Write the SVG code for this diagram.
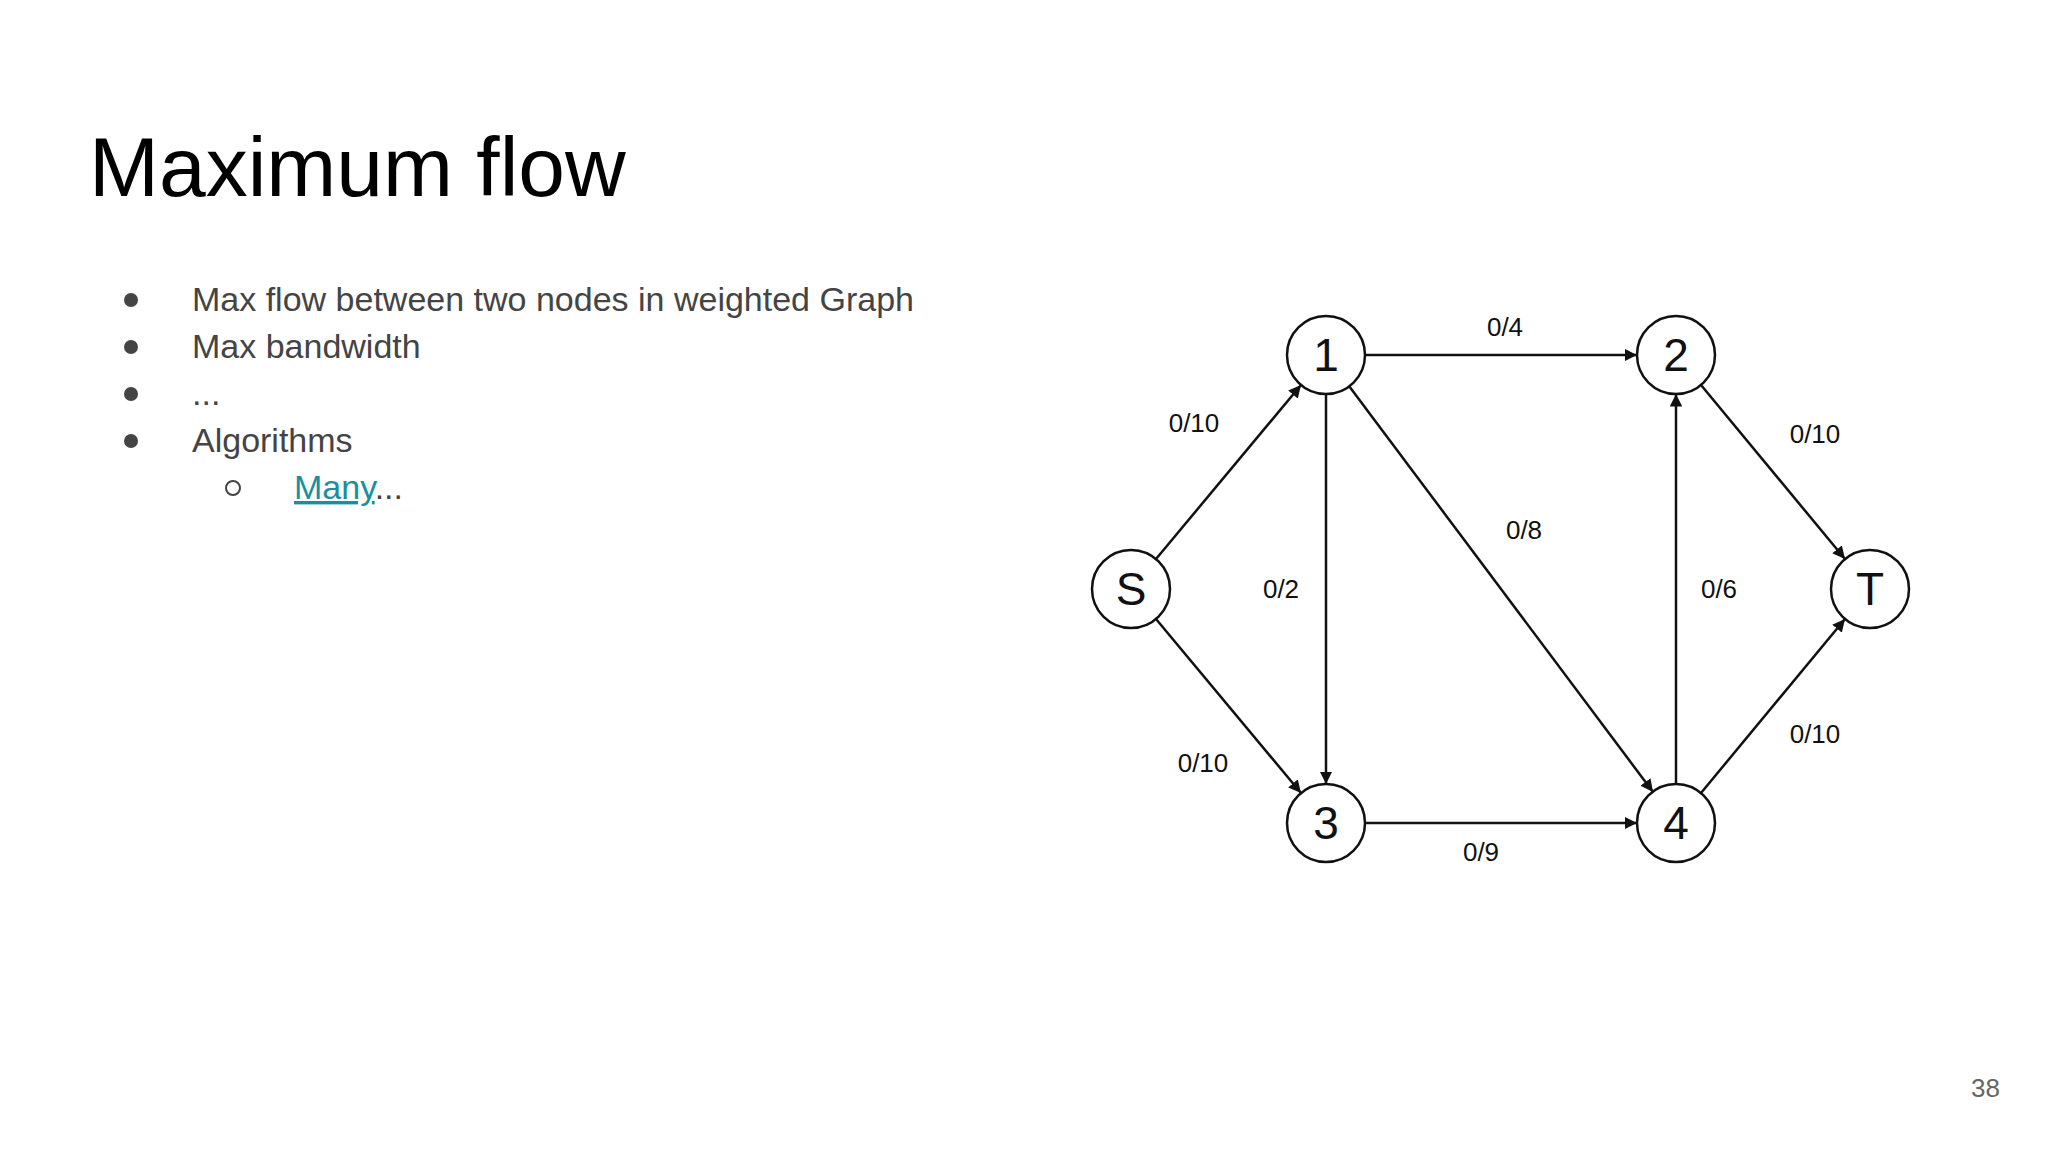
<svg xmlns="http://www.w3.org/2000/svg" width="2048" height="1152" viewBox="0 0 2048 1152">
<style>
.t{font-family:"Liberation Sans",Arial,sans-serif}
.b{font-size:34px;fill:#444}
.n circle{fill:#fff;stroke:#111;stroke-width:2.5}
.n text{font-family:"Liberation Sans",Arial,sans-serif;font-size:46px;text-anchor:middle;fill:#111}
.e line{stroke:#111;stroke-width:2.5;marker-end:url(#a)}
.l{font-family:"Liberation Sans",Arial,sans-serif;font-size:26px;text-anchor:middle;fill:#111}
</style>
<defs><marker id="a" viewBox="0 0 10 10" refX="10" refY="5" markerWidth="5" markerHeight="5" orient="auto" markerUnits="strokeWidth"><path d="M0,0L10,5L0,10z" fill="#111"/></marker></defs>
<rect width="2048" height="1152" fill="#fff"/>
<text class="t" x="89" y="196" font-size="84" fill="#000">Maximum flow</text>
<g class="t b">
<circle cx="131" cy="300" r="7" fill="#444"/><text x="192" y="311">Max flow between two nodes in weighted Graph</text>
<circle cx="131" cy="347" r="7" fill="#444"/><text x="192" y="358">Max bandwidth</text>
<circle cx="131" cy="394" r="7" fill="#444"/><text x="192" y="405">...</text>
<circle cx="131" cy="441" r="7" fill="#444"/><text x="192" y="452">Algorithms</text>
<circle cx="233" cy="488" r="7" fill="none" stroke="#444" stroke-width="2"/><text x="294" y="499"><tspan fill="#1a8fa0" text-decoration="underline">Many</tspan>...</text>
</g>
<g class="e">
<line x1="1156" y1="559" x2="1301" y2="385"/>
<line x1="1156" y1="619" x2="1301" y2="793"/>
<line x1="1365" y1="355" x2="1637" y2="355"/>
<line x1="1326" y1="394" x2="1326" y2="784"/>
<line x1="1349" y1="386" x2="1653" y2="792"/>
<line x1="1365" y1="823" x2="1637" y2="823"/>
<line x1="1676" y1="784" x2="1676" y2="394"/>
<line x1="1701" y1="385" x2="1845" y2="559"/>
<line x1="1701" y1="793" x2="1845" y2="619"/>
</g>
<g>
<text class="l" x="1505" y="336">0/4</text>
<text class="l" x="1194" y="432">0/10</text>
<text class="l" x="1815" y="443">0/10</text>
<text class="l" x="1524" y="539">0/8</text>
<text class="l" x="1281" y="598">0/2</text>
<text class="l" x="1719" y="598">0/6</text>
<text class="l" x="1203" y="772">0/10</text>
<text class="l" x="1815" y="743">0/10</text>
<text class="l" x="1481" y="861">0/9</text>
</g>
<g id="S" class="n"><circle cx="1131" cy="589" r="39"/><text x="1131" y="605">S</text></g>
<g id="n1" class="n"><circle cx="1326" cy="355" r="39"/><text x="1326" y="371">1</text></g>
<g id="n2" class="n"><circle cx="1676" cy="355" r="39"/><text x="1676" y="371">2</text></g>
<g id="T" class="n"><circle cx="1870" cy="589" r="39"/><text x="1870" y="605">T</text></g>
<g id="n3" class="n"><circle cx="1326" cy="823" r="39"/><text x="1326" y="839">3</text></g>
<g id="n4" class="n"><circle cx="1676" cy="823" r="39"/><text x="1676" y="839">4</text></g>
<text class="t" x="2000" y="1097" font-size="26" fill="#666" text-anchor="end">38</text>
</svg>
